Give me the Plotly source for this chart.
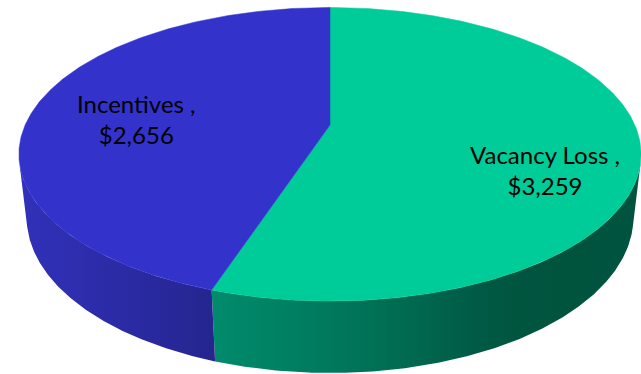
import numpy as np
import plotly.graph_objects as go

# Slice data (clockwise from 12 o'clock)
categories = ["Vacancy Loss", "Incentives"]
values = [3259, 2656]

top_colors = ["#00CC99", "#3333CC"]
side_scales = [
    [[0, "#008b6c"], [0.22, "#007d60"], [0.46, "#006a50"], [0.62, "#005a45"],
     [0.72, "#00553f"], [1, "#00533e"]],
    [[0, "#3131ba"], [0.5, "#2b2ba6"], [1, "#25258f"]],
]
label_pos = [(545, 170), (136, 119)]

W, H = 641, 374

# Perspective camera for the tilted disc
PHI = np.radians(27.54)
S, C = np.sin(PHI), np.cos(PHI)
DIST = 4.448
FOC = 1356.0
CX, CY = 330.0, 125.0
THICK = 0.2355


def project(theta, z):
    """theta measured clockwise from the far point; z = height (0 top face)."""
    x = np.sin(theta)
    y = np.cos(theta)
    depth = DIST + y * C - z * S
    up = y * S + z * C
    return CX + FOC * x / depth, CY - FOC * up / depth


total = sum(values)
bounds = np.concatenate([[0], np.cumsum(values) / total * 2 * np.pi])

# visible band of the cylinder wall
cos_sil = -1.0 / (DIST * C)
sil_a = np.arccos(cos_sil)
sil_b = 2 * np.pi - sil_a

fig = go.Figure()

# side walls first
for i in range(len(values)):
    a0, a1 = bounds[i], bounds[i + 1]
    lo, hi = max(a0, sil_a), min(a1, sil_b)
    if hi <= lo:
        continue
    t = np.linspace(lo, hi, 200)
    xt, yt = project(t, 0.0)
    xb, yb = project(t[::-1], -THICK)
    xs = np.concatenate([xt, xb, xt[:1]])
    ys = np.concatenate([yt, yb, yt[:1]])
    fig.add_trace(go.Scatter(
        x=xs, y=ys, mode="lines", fill="toself",
        line=dict(width=0, color=side_scales[i][-1][1]),
        fillgradient=dict(type="horizontal", colorscale=side_scales[i]),
        hoverinfo="skip", showlegend=False,
    ))

# top faces
for i in range(len(values)):
    a0, a1 = bounds[i], bounds[i + 1]
    t = np.linspace(a0, a1, 300)
    xr, yr = project(t, 0.0)
    xs = np.concatenate([[CX], xr, [CX]])
    ys = np.concatenate([[CY], yr, [CY]])
    fig.add_trace(go.Scatter(
        x=xs, y=ys, mode="lines", fill="toself",
        line=dict(width=0.5, color=top_colors[i]), fillcolor=top_colors[i],
        hoverinfo="skip", showlegend=False,
    ))

for cat, val, (lx, ly) in zip(categories, values, label_pos):
    fig.add_annotation(
        x=lx, y=ly, xref="x", yref="y",
        text=f"{cat} ,<br>${val:,}", showarrow=False,
        font=dict(family="Lato", size=24, color="#000000"),
        align="center", xanchor="center", yanchor="middle",
    )

fig.update_layout(
    width=W, height=H,
    margin=dict(l=0, r=0, t=0, b=0),
    paper_bgcolor="white", plot_bgcolor="white",
    xaxis=dict(range=[0, W], visible=False, fixedrange=True),
    yaxis=dict(range=[H, 0], visible=False, fixedrange=True),
)

fig.write_html("out.html")
